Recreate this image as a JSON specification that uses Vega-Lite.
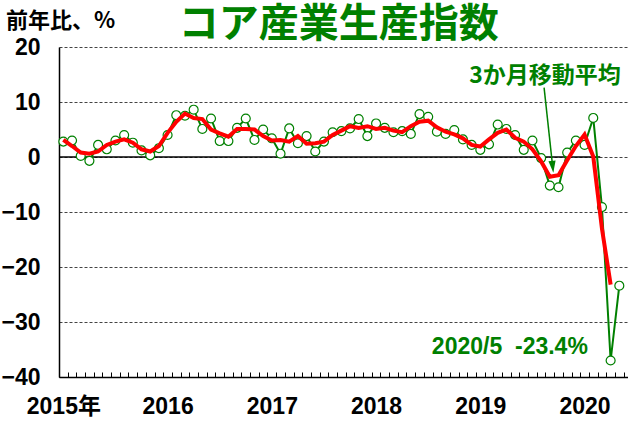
{
  "$schema": "https://vega.github.io/schema/vega-lite/v6.json",
  "width": 569,
  "height": 330,
  "autosize": {"type": "none"},
  "padding": {"left": 59, "top": 47, "right": 0, "bottom": 44},
  "background": "white",
  "config": {"view": {"stroke": null}},
  "resolve": {"axis": {"x": "independent"}},
  "data": {"values": [
    {"month": "2015-01", "i": 0, "v": 2.8, "ma": 3.1},
    {"month": "2015-02", "i": 1, "v": 3.0, "ma": 2.0},
    {"month": "2015-03", "i": 2, "v": 0.2, "ma": 0.8},
    {"month": "2015-04", "i": 3, "v": -0.7, "ma": 0.6},
    {"month": "2015-05", "i": 4, "v": 2.2, "ma": 1.0},
    {"month": "2015-06", "i": 5, "v": 1.4, "ma": 2.2},
    {"month": "2015-07", "i": 6, "v": 3.0, "ma": 2.8},
    {"month": "2015-08", "i": 7, "v": 4.0, "ma": 3.2},
    {"month": "2015-09", "i": 8, "v": 2.6, "ma": 2.6},
    {"month": "2015-10", "i": 9, "v": 1.2, "ma": 1.4},
    {"month": "2015-11", "i": 10, "v": 0.3, "ma": 1.0},
    {"month": "2015-12", "i": 11, "v": 1.6, "ma": 2.0},
    {"month": "2016-01", "i": 12, "v": 4.0, "ma": 4.4},
    {"month": "2016-02", "i": 13, "v": 7.6, "ma": 6.4},
    {"month": "2016-03", "i": 14, "v": 7.5, "ma": 7.9},
    {"month": "2016-04", "i": 15, "v": 8.6, "ma": 7.1},
    {"month": "2016-05", "i": 16, "v": 5.1, "ma": 6.9},
    {"month": "2016-06", "i": 17, "v": 7.0, "ma": 5.0},
    {"month": "2016-07", "i": 18, "v": 2.9, "ma": 4.3},
    {"month": "2016-08", "i": 19, "v": 2.9, "ma": 3.7},
    {"month": "2016-09", "i": 20, "v": 5.3, "ma": 5.1},
    {"month": "2016-10", "i": 21, "v": 7.0, "ma": 5.1},
    {"month": "2016-11", "i": 22, "v": 3.1, "ma": 5.0},
    {"month": "2016-12", "i": 23, "v": 5.0, "ma": 3.8},
    {"month": "2017-01", "i": 24, "v": 3.4, "ma": 3.0},
    {"month": "2017-02", "i": 25, "v": 0.6, "ma": 3.1},
    {"month": "2017-03", "i": 26, "v": 5.2, "ma": 2.8},
    {"month": "2017-04", "i": 27, "v": 2.5, "ma": 3.8},
    {"month": "2017-05", "i": 28, "v": 3.8, "ma": 2.4},
    {"month": "2017-06", "i": 29, "v": 1.0, "ma": 2.5},
    {"month": "2017-07", "i": 30, "v": 2.8, "ma": 2.8},
    {"month": "2017-08", "i": 31, "v": 4.5, "ma": 4.0},
    {"month": "2017-09", "i": 32, "v": 4.7, "ma": 4.8},
    {"month": "2017-10", "i": 33, "v": 5.2, "ma": 5.6},
    {"month": "2017-11", "i": 34, "v": 6.9, "ma": 5.3},
    {"month": "2017-12", "i": 35, "v": 3.8, "ma": 5.6},
    {"month": "2018-01", "i": 36, "v": 6.1, "ma": 5.1},
    {"month": "2018-02", "i": 37, "v": 5.3, "ma": 5.3},
    {"month": "2018-03", "i": 38, "v": 4.5, "ma": 4.8},
    {"month": "2018-04", "i": 39, "v": 4.7, "ma": 4.5},
    {"month": "2018-05", "i": 40, "v": 4.2, "ma": 5.6},
    {"month": "2018-06", "i": 41, "v": 7.8, "ma": 6.4},
    {"month": "2018-07", "i": 42, "v": 7.3, "ma": 6.6},
    {"month": "2018-08", "i": 43, "v": 4.6, "ma": 5.4},
    {"month": "2018-09", "i": 44, "v": 4.2, "ma": 4.6},
    {"month": "2018-10", "i": 45, "v": 4.9, "ma": 4.1},
    {"month": "2018-11", "i": 46, "v": 3.2, "ma": 3.4},
    {"month": "2018-12", "i": 47, "v": 2.2, "ma": 2.2},
    {"month": "2019-01", "i": 48, "v": 1.3, "ma": 1.9},
    {"month": "2019-02", "i": 49, "v": 2.3, "ma": 3.2},
    {"month": "2019-03", "i": 50, "v": 5.9, "ma": 4.4},
    {"month": "2019-04", "i": 51, "v": 5.1, "ma": 5.0},
    {"month": "2019-05", "i": 52, "v": 4.0, "ma": 3.5},
    {"month": "2019-06", "i": 53, "v": 1.3, "ma": 2.8},
    {"month": "2019-07", "i": 54, "v": 3.0, "ma": 1.4},
    {"month": "2019-08", "i": 55, "v": -0.2, "ma": -0.8},
    {"month": "2019-09", "i": 56, "v": -5.2, "ma": -3.6},
    {"month": "2019-10", "i": 57, "v": -5.5, "ma": -3.3},
    {"month": "2019-11", "i": 58, "v": 0.8, "ma": -0.6},
    {"month": "2019-12", "i": 59, "v": 3.0, "ma": 2.0},
    {"month": "2020-01", "i": 60, "v": 2.2, "ma": 4.1},
    {"month": "2020-02", "i": 61, "v": 7.1, "ma": 0.1},
    {"month": "2020-03", "i": 62, "v": -9.1, "ma": -13.0},
    {"month": "2020-04", "i": 63, "v": -37.0, "ma": -23.2},
    {"month": "2020-05", "i": 64, "v": -23.4, "ma": null}
  ]},
  "layer": [
    {
      "data": {"values": [{}]},
      "mark": {"type": "rule", "color": "black", "strokeWidth": 1.3},
      "encoding": {
        "x": {"datum": -0.5, "type": "quantitative", "scale": {"domain": [-0.5, 65], "nice": false, "zero": false},
          "axis": {
            "orient": "bottom",
            "values": [-0.5, 0.5, 1.5, 2.5, 3.5, 4.5, 5.5, 6.5, 7.5, 8.5, 9.5, 10.5, 11.5, 12.5, 13.5, 14.5, 15.5, 16.5, 17.5, 18.5, 19.5, 20.5, 21.5, 22.5, 23.5, 24.5, 25.5, 26.5, 27.5, 28.5, 29.5, 30.5, 31.5, 32.5, 33.5, 34.5, 35.5, 36.5, 37.5, 38.5, 39.5, 40.5, 41.5, 42.5, 43.5, 44.5, 45.5, 46.5, 47.5, 48.5, 49.5, 50.5, 51.5, 52.5, 53.5, 54.5, 55.5, 56.5, 57.5, 58.5, 59.5, 60.5, 61.5, 62.5, 63.5, 64.5],
            "labels": false,
            "tickSize": -5,
            "tickColor": "black",
            "tickWidth": 1,
            "domainColor": "black",
            "domainWidth": 1.5,
            "grid": false,
            "title": null
          }},
        "x2": {"datum": 61.8},
        "y": {"datum": 0, "type": "quantitative", "scale": {"domain": [-40, 20], "nice": false, "zero": false},
          "axis": {
            "values": [-40, -30, -20, -10, 0, 10, 20],
            "grid": true,
            "gridDash": [3, 2],
            "gridColor": "#444444",
            "gridWidth": 1,
            "ticks": false,
            "domainColor": "black",
            "domainWidth": 1.5,
            "labelFont": "Liberation Sans",
            "labelFontWeight": "bold",
            "labelFontSize": 23,
            "labelColor": "black",
            "labelPadding": 19,
            "title": null
          }}
      }
    },
    {
      "mark": {"type": "line", "color": "#008000", "strokeWidth": 2},
      "encoding": {
        "x": {"field": "i", "type": "quantitative",
          "axis": {
            "orient": "bottom",
            "values": [0, 12, 24, 36, 48, 60],
            "labelExpr": "datum.value == 0 ? '2015年' : '' + (2015 + datum.value / 12)",
            "labelFlush": false,
            "labelOverlap": false,
            "labelBound": false,
            "ticks": false,
            "domain": false,
            "grid": false,
            "title": null,
            "labelFont": "Liberation Sans, Noto Sans CJK JP",
            "labelFontWeight": "bold",
            "labelFontSize": 23,
            "labelColor": "black",
            "labelPadding": 18
          }},
        "y": {"field": "v", "type": "quantitative"}
      }
    },
    {
      "mark": {"type": "point", "shape": "circle", "filled": false, "fill": "white", "fillOpacity": 1, "stroke": "#008000", "strokeWidth": 1.2, "size": 80, "opacity": 1},
      "encoding": {
        "x": {"field": "i", "type": "quantitative", "axis": null},
        "y": {"field": "v", "type": "quantitative"}
      }
    },
    {
      "mark": {"type": "line", "color": "#ff0000", "strokeWidth": 4},
      "encoding": {
        "x": {"field": "i", "type": "quantitative", "axis": null},
        "y": {"field": "ma", "type": "quantitative"}
      }
    },
    {
      "data": {"values": [{}]},
      "mark": {"type": "rule", "color": "#008000", "strokeWidth": 1.5},
      "encoding": {
        "x": {"datum": 55.34, "axis": null},
        "y": {"datum": 12.6},
        "x2": {"datum": 56.33},
        "y2": {"datum": -1.8}
      }
    },
    {
      "data": {"values": [{}]},
      "mark": {"type": "point", "shape": "M-0.6,-1L0.6,-1L0,1Z", "filled": true, "color": "#008000", "size": 144, "angle": -6.3, "opacity": 1},
      "encoding": {
        "x": {"datum": 56.33, "axis": null},
        "y": {"datum": -1.8}
      }
    },
    {
      "data": {"values": [{}]},
      "mark": {"type": "text", "text": "3か月移動平均", "font": "Noto Sans CJK JP", "fontWeight": "bold", "fontSize": 23, "color": "#008000", "align": "center", "baseline": "middle"},
      "encoding": {
        "x": {"datum": 55.45, "axis": null},
        "y": {"datum": 14.8}
      }
    },
    {
      "data": {"values": [{}]},
      "mark": {"type": "text", "text": "2020/5\u00a0\u00a0-23.4%", "font": "Liberation Sans", "fontWeight": "bold", "fontSize": 23, "color": "#008000", "align": "center", "baseline": "middle"},
      "encoding": {
        "x": {"datum": 51.4, "axis": null},
        "y": {"datum": -34.5}
      }
    },
    {
      "data": {"values": [{}]},
      "mark": {"type": "text", "text": "前年比、%", "font": "Noto Sans CJK JP", "fontWeight": "bold", "fontSize": 22, "color": "black", "align": "left", "baseline": "middle"},
      "encoding": {
        "x": {"datum": -6.6, "axis": null},
        "y": {"datum": 24.8}
      }
    },
    {
      "data": {"values": [{}]},
      "mark": {"type": "text", "text": "コア産業生産指数", "font": "Noto Sans CJK JP", "fontWeight": "bold", "fontSize": 40, "color": "#008000", "align": "center", "baseline": "alphabetic"},
      "encoding": {
        "x": {"datum": 31.7, "axis": null},
        "y": {"datum": 21.8}
      }
    }
  ]
}
